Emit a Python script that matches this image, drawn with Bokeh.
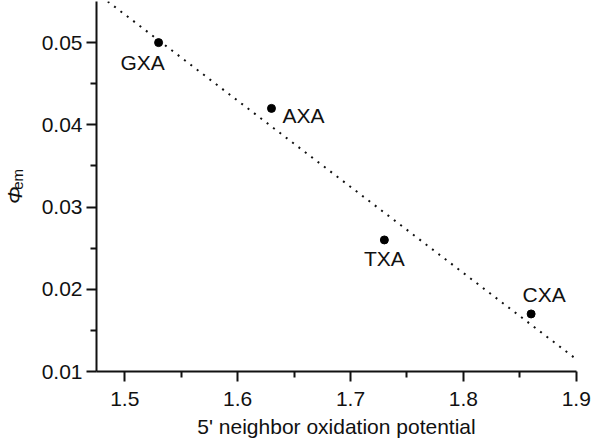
import math
from bokeh.plotting import figure
from bokeh.layouts import row
from bokeh.models import Range1d, FixedTicker, PrintfTickFormatter, ColumnDataSource
from bokeh.core.properties import value
from bokeh.embed import file_html
from bokeh.resources import INLINE

# ---- data ----
names = ["GXA", "AXA", "TXA", "CXA"]
potential = [1.53, 1.63, 1.73, 1.86]
phi_em = [0.050, 0.042, 0.026, 0.017]
fit_x = [1.485, 1.90]
fit_y = [0.0550, 0.0115]
x_ticks = [1.5, 1.6, 1.7, 1.8, 1.9]
x_minor = [1.55, 1.65, 1.75, 1.85]
y_ticks = [0.01, 0.02, 0.03, 0.04, 0.05]
y_minor = [0.015, 0.025, 0.035, 0.045]

# ---- label placement (style) ----
label_dx = [-16, 11, 0, 13]
label_dy = [20, 7, 19, -19]
label_align = ["center", "left", "center", "center"]

FONT = "Liberation Sans"
INK = "#111111"
H = 443

p = figure(width=562, height=H, output_backend="svg", toolbar_location=None,
           x_range=Range1d(1.475, 1.9002), y_range=Range1d(0.01, 0.0550),
           min_border_left=66, min_border_right=16, min_border_top=1,
           min_border_bottom=72)
p.outline_line_color = None
p.grid.visible = False

# dotted fit line
p.line(fit_x, fit_y, line_color=INK, line_width=2, line_dash="2 6")

src = ColumnDataSource(dict(x=potential, y=phi_em, name=names,
                            dx=label_dx, dy=label_dy, align=label_align))
p.scatter("x", "y", source=src, size=8, color="black")
p.text("x", "y", text="name", source=src, x_offset="dx", y_offset="dy",
       text_align="align", text_baseline="middle",
       text_font=value(FONT), text_font_size="21px", text_color=INK)

# axes
p.xaxis.ticker = FixedTicker(ticks=x_ticks, minor_ticks=x_minor)
p.yaxis.ticker = FixedTicker(ticks=y_ticks, minor_ticks=y_minor)
p.xaxis.formatter = PrintfTickFormatter(format="%.1f")
p.yaxis.formatter = PrintfTickFormatter(format="%.2f")
for ax in (p.xaxis[0], p.yaxis[0]):
    ax.axis_line_color = INK
    ax.axis_line_width = 2
    ax.major_tick_line_color = INK
    ax.major_tick_line_width = 2
    ax.minor_tick_line_color = INK
    ax.minor_tick_line_width = 2
    ax.major_tick_out = 10
    ax.major_tick_in = 0
    ax.minor_tick_out = 6
    ax.minor_tick_in = 0
    ax.major_label_text_font = FONT
    ax.major_label_text_font_size = "21px"
    ax.major_label_text_color = INK
p.xaxis.major_label_standoff = 10
p.yaxis.major_label_standoff = 4

p.xaxis.axis_label = "5' neighbor oxidation potential"
p.xaxis.axis_label_text_font = FONT
p.xaxis.axis_label_text_font_size = "21px"
p.xaxis.axis_label_text_font_style = "normal"
p.xaxis.axis_label_text_color = INK
p.xaxis.axis_label_standoff = 6

# narrow strip holding the y-axis title: italic Phi with subscript "em"
t = figure(width=30, height=H, output_backend="svg", toolbar_location=None,
           x_range=Range1d(0, 30), y_range=Range1d(H, 0),
           x_axis_type=None, y_axis_type=None,
           min_border_left=0, min_border_right=0, min_border_top=0,
           min_border_bottom=0)
t.outline_line_color = None
t.grid.visible = False
t.text(x=[14], y=[232], text=["Φ"], angle=math.pi / 2,
       text_align="center", text_baseline="middle",
       text_font=value(FONT), text_font_size="21px",
       text_font_style="italic", text_color=INK)
t.text(x=[17], y=[213], text=["em"], angle=math.pi / 2,
       text_align="center", text_baseline="middle",
       text_font=value(FONT), text_font_size="15px", text_color=INK)

layout = row(t, p, spacing=0)
open("out.html", "w").write(file_html(layout, INLINE))
